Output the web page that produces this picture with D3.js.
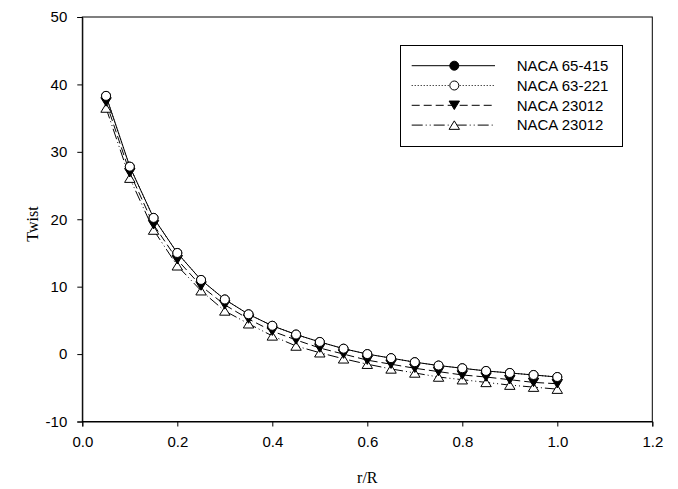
<!DOCTYPE html>
<html><head><meta charset="utf-8">
<script src="https://cdn.jsdelivr.net/npm/d3@7"></script>
<style>body{margin:0;background:#fff}svg{display:block}</style>
</head><body>
<svg id="c" width="678" height="489"></svg>
<script>
const rR = [0.05,0.10,0.15,0.20,0.25,0.30,0.35,0.40,0.45,0.50,0.55,0.60,0.65,0.70,0.75,0.80,0.85,0.90,0.95,1.00];
const naca65415 = [38.3,27.8,20.2,15.0,11.0,8.1,5.9,4.2,2.9,1.8,0.8,0.0,-0.6,-1.2,-1.7,-2.1,-2.5,-2.8,-3.1,-3.4];
const naca63221 = [38.3,27.8,20.2,15.0,11.0,8.1,5.9,4.2,2.9,1.8,0.8,0.0,-0.6,-1.2,-1.7,-2.1,-2.5,-2.8,-3.1,-3.4];
const naca23012a = [37.4,26.9,19.2,14.0,10.1,7.3,5.2,3.4,2.1,0.9,0.0,-0.9,-1.5,-2.1,-2.6,-3.1,-3.4,-3.8,-4.2,-4.4];
const naca23012b = [36.5,26.1,18.4,13.1,9.4,6.4,4.5,2.7,1.2,0.2,-0.7,-1.5,-2.2,-2.8,-3.4,-3.8,-4.2,-4.6,-4.9,-5.2];
const seriesNames = ["NACA 65-415","NACA 63-221","NACA 23012","NACA 23012"];
const xTicks = [0.0,0.2,0.4,0.6,0.8,1.0,1.2];
const yTicks = [-10,0,10,20,30,40,50];

const series = [
  {name:seriesNames[0], vals:naca65415, dash:null, marker:"circleFilled"},
  {name:seriesNames[1], vals:naca63221, dash:"1,2", marker:"circleOpen"},
  {name:seriesNames[2], vals:naca23012a, dash:"8,4", marker:"triDown"},
  {name:seriesNames[3], vals:naca23012b, dash:"11,3,1,3,1,3", marker:"triUp"}
];

const svg = d3.select("#c");
const L=82.3, R=652.3, T=17, B=421.5;
const x = d3.scaleLinear().domain([0,1.2]).range([L,R]);
const y = d3.scaleLinear().domain([-10,50]).range([B,T]);

svg.append("rect").attr("x",L).attr("y",T).attr("width",R-L).attr("height",B-T)
  .attr("fill","none").attr("stroke","#000").attr("stroke-width",1);

const fontT = "Arial, 'Liberation Sans', sans-serif";
const gx = svg.append("g").attr("transform",`translate(0,${B})`)
  .call(d3.axisBottom(x).tickValues(xTicks).tickFormat(d=>d.toFixed(1)).tickSize(5).tickPadding(10));
const gy = svg.append("g").attr("transform",`translate(${L},0)`)
  .call(d3.axisLeft(y).tickValues(yTicks).tickFormat(d=>String(d)).tickSize(5).tickPadding(10));
[gx,gy].forEach(g=>{
  g.select(".domain").attr("stroke","#000");
  g.selectAll(".tick line").attr("stroke","#000");
  g.selectAll("text").attr("font-family",fontT).attr("font-size",15).attr("fill","#000");
});

const fontS = "'Liberation Serif','Times New Roman',serif";
svg.append("text").attr("x",(L+R)/2).attr("y",483).attr("text-anchor","middle")
  .attr("font-family",fontS).attr("font-size",16).text("r/R");
svg.append("text").attr("transform",`translate(38,224) rotate(-90)`).attr("text-anchor","middle")
  .attr("font-family",fontS).attr("font-size",16).text("Twist");

function drawMarker(g, type, cx, cy){
  if(type==="circleFilled"||type==="circleOpen"){
    g.append("circle").attr("cx",cx).attr("cy",cy).attr("r",4.5)
      .attr("fill",type==="circleFilled"?"#000":"#fff").attr("stroke","#000").attr("stroke-width",1);
  } else {
    const s=5.2, h=8.5;
    const pts = type==="triDown"
      ? [[cx-s,cy-h/2],[cx+s,cy-h/2],[cx,cy+h/2]]
      : [[cx-s,cy+h/2],[cx+s,cy+h/2],[cx,cy-h/2]];
    g.append("path").attr("d","M"+pts.map(p=>p.join(",")).join("L")+"Z")
      .attr("fill",type==="triDown"?"#000":"#fff").attr("stroke","#000").attr("stroke-width",1);
  }
}

const line = d3.line().x(d=>x(d[0])).y(d=>y(d[1]));
const order = [3,2,0,1];
order.forEach(i=>{
  const s = series[i];
  const data = rR.map((r,j)=>[r,s.vals[j]]);
  svg.append("path").datum(data).attr("d",line).attr("fill","none")
    .attr("stroke","#000").attr("stroke-width",1).attr("stroke-dasharray",s.dash);
});
order.forEach(i=>{
  const s = series[i];
  const g = svg.append("g");
  rR.forEach((r,j)=>drawMarker(g,s.marker,x(r),y(s.vals[j])));
});

const lg = svg.append("g");
lg.append("rect").attr("x",400.5).attr("y",45.5).attr("width",222).attr("height",101)
  .attr("fill","#fff").attr("stroke","#000").attr("stroke-width",1);
series.forEach((s,i)=>{
  const yy = 65.7 + i*19.8;
  lg.append("line").attr("x1",411.7).attr("x2",495).attr("y1",yy).attr("y2",yy)
    .attr("stroke","#000").attr("stroke-width",1).attr("stroke-dasharray",s.dash);
  drawMarker(lg,s.marker,454.3,yy);
  lg.append("text").attr("x",516.7).attr("y",yy).attr("dy","0.35em")
    .attr("font-family",fontT).attr("font-size",15).text(s.name);
});
</script>
</body></html>
